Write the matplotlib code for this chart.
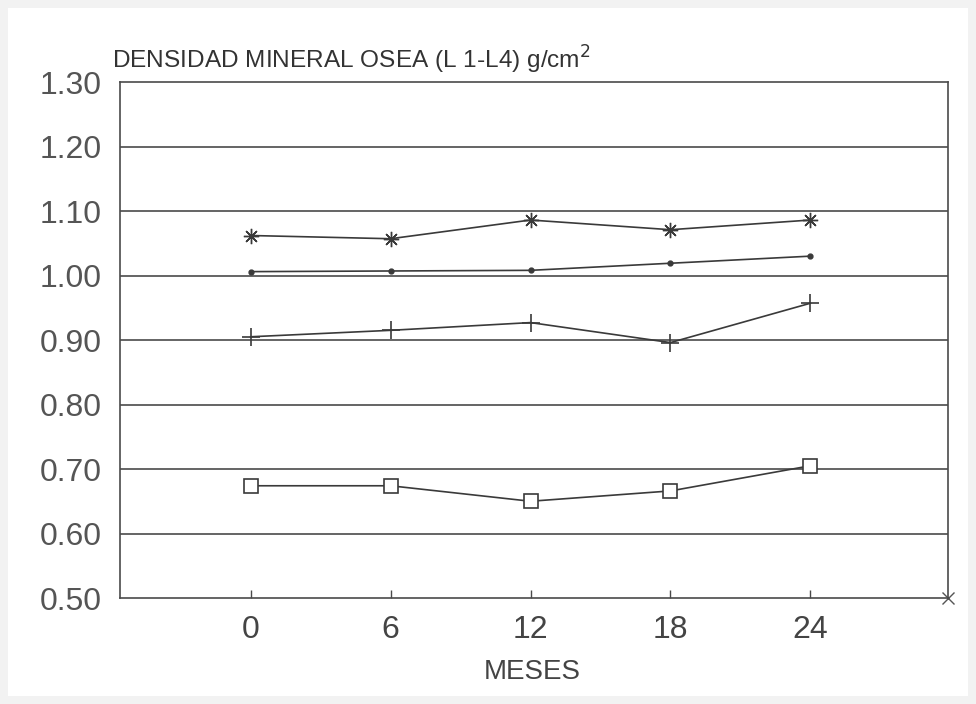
import matplotlib
matplotlib.use("Agg")
import matplotlib.pyplot as plt
from matplotlib.patches import Rectangle

plt.rcParams['font.family'] = ['Liberation Sans', 'DejaVu Sans']

meses = [0, 6, 12, 18, 24]
serie_asterisco = [1.062, 1.057, 1.086, 1.071, 1.086]
serie_punto = [1.006, 1.007, 1.008, 1.019, 1.030]
serie_cruz = [0.905, 0.915, 0.927, 0.896, 0.957]
serie_cuadro = [0.674, 0.674, 0.650, 0.666, 0.705]
y_ticks = [0.50, 0.60, 0.70, 0.80, 0.90, 1.00, 1.10, 1.20, 1.30]
y_labels = ["0.50", "0.60", "0.70", "0.80", "0.90", "1.00", "1.10", "1.20", "1.30"]
x_labels = ["0", "6", "12", "18", "24"]

fig = plt.figure(figsize=(9.76, 7.04), dpi=100, facecolor='#f2f2f2')
fig.patches.append(Rectangle((8/976, 8/704), 960/976, 688/704, transform=fig.transFigure,
                             facecolor='white', edgecolor='none', zorder=-10))
ax = fig.add_axes([120/976, 1 - 598/704, 828/976, 516/704])
ax.set_zorder(5)
ax.set_facecolor('white')

line_c = '#3a3a3a'
ax.plot(meses, serie_asterisco, color=line_c, lw=1.2, marker=(8, 2, 0), ms=11,
        mew=1.0, mec=line_c)
ax.plot(meses, serie_punto, color=line_c, lw=1.2, marker='o', ms=3.5, mfc=line_c, mec=line_c)
ax.plot(meses, serie_cruz, color=line_c, lw=1.2, marker='+', ms=13, mew=1.2, mec=line_c)
ax.plot(meses, serie_cuadro, color=line_c, lw=1.2, marker='s', ms=9.5, mfc='white',
        mec=line_c, mew=1.2)

ax.set_xlim(-5.6, 29.9)
ax.set_ylim(0.50, 1.30)
ax.set_yticks(y_ticks)
ax.set_yticklabels(y_labels)
ax.set_xticks(meses)
ax.set_xticklabels(x_labels)

for v in y_ticks[1:-1]:
    ax.axhline(v, color='#4a4a4a', lw=1.2, zorder=1)

for s in ax.spines.values():
    s.set_color('#4a4a4a')
    s.set_linewidth(1.2)

ax.tick_params(axis='y', length=0, pad=13, labelsize=23, labelcolor='#555555')
ax.tick_params(axis='x', direction='in', length=6, width=1.0, color='#4a4a4a',
               pad=12, labelsize=23, labelcolor='#444444')

ax.plot([1.0], [0.0], transform=ax.transAxes, marker='x', ms=9, mew=1.0,
        color='#555555', clip_on=False)

fig.text(112/976, 1 - 60/704, "DENSIDAD MINERAL OSEA (L 1-L4) g/cm$^2$",
         fontsize=17.6, color='#333333', va='center', ha='left')
fig.text(532/976, 1 - 672/704, "MESES", fontsize=20, color='#444444',
         va='center', ha='center')

fig.savefig("out.png", dpi=100, facecolor=fig.get_facecolor())
